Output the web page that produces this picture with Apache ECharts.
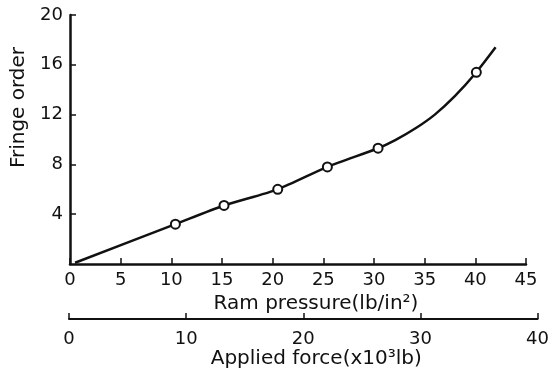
<!DOCTYPE html>
<html>
<head>
<meta charset="utf-8">
<script src="https://cdn.jsdelivr.net/npm/echarts@6/dist/echarts.min.js"></script>
<style>
  html, body { margin: 0; padding: 0; background: #fff; }
  #chart { width: 552px; height: 370px; }
</style>
</head>
<body>
<div id="chart"></div>
<script>
// measured points (circles)
const pressure = [10.4, 15.2, 20.5, 25.4, 30.4, 40.1];
const fringe = [3.2, 4.7, 6.0, 7.8, 9.3, 15.4];

// drawn curve traced through the points
const curvePressure = [0.5, 10.4, 15.2, 20.5, 25.4, 30.4, 32.1, 34.1, 36.0, 38.0, 40.1, 42.0];
const curveFringe = [0.1, 3.2, 4.7, 6.0, 7.8, 9.3, 9.95, 10.9, 12.0, 13.5, 15.4, 17.4];

// axis ranges
const pressureTicks = [0, 45, 5];
const forceTicks = [0, 40, 10];
const fringeTicks = [0, 20, 4];

const ink = '#111';
const font = 'DejaVu Sans';

const chart = echarts.init(document.getElementById('chart'));

chart.setOption({
  backgroundColor: '#fff',
  animation: false,
  grid: [
    { left: 70, right: 26, top: 15, bottom: 106 },
    { left: 69, right: 11, top: 300, height: 20 },
  ],
  xAxis: [
    {
      type: 'value',
      gridIndex: 0,
      min: pressureTicks[0],
      max: pressureTicks[1],
      interval: pressureTicks[2],
      name: 'Ram pressure(lb/in²)',
      nameLocation: 'middle',
      nameGap: 22,
      nameTextStyle: { color: ink, fontFamily: font, fontSize: 20, padding: [0, 0, 0, 36] },
      axisLine: { lineStyle: { color: ink, width: 2.5 } },
      axisTick: { inside: true, length: 6, lineStyle: { color: ink, width: 1.5 } },
      axisLabel: { color: ink, fontFamily: font, fontSize: 18, margin: 7 },
      splitLine: { show: false },
    },
    {
      type: 'value',
      gridIndex: 1,
      position: 'bottom',
      min: forceTicks[0],
      max: forceTicks[1],
      interval: forceTicks[2],
      name: 'Applied force(x10³lb)',
      nameLocation: 'middle',
      nameGap: 30,
      nameTextStyle: { color: ink, fontFamily: font, fontSize: 20, padding: [0, 0, 0, 26] },
      axisLine: { lineStyle: { color: ink, width: 2 } },
      axisTick: { inside: true, length: 6, lineStyle: { color: ink, width: 1.5 } },
      axisLabel: { color: ink, fontFamily: font, fontSize: 18, margin: 11 },
      splitLine: { show: false },
    },
  ],
  yAxis: [
    {
      type: 'value',
      gridIndex: 0,
      min: fringeTicks[0],
      max: fringeTicks[1],
      interval: fringeTicks[2],
      name: 'Fringe order',
      nameLocation: 'middle',
      nameRotate: 90,
      nameGap: 40,
      nameTextStyle: { color: ink, fontFamily: font, fontSize: 20, padding: [0, 0, 0, 64] },
      axisLine: { show: true, lineStyle: { color: ink, width: 2.5 } },
      axisTick: { show: true, inside: true, length: 6, lineStyle: { color: ink, width: 1.5 } },
      axisLabel: { color: ink, fontFamily: font, fontSize: 18, margin: 7, showMinLabel: false },
      splitLine: { show: false },
    },
    {
      type: 'value',
      gridIndex: 1,
      show: false,
    },
  ],
  series: [
    {
      type: 'line',
      xAxisIndex: 0,
      yAxisIndex: 0,
      data: curvePressure.map((x, i) => [x, curveFringe[i]]),
      smooth: 0.25,
      showSymbol: false,
      lineStyle: { color: ink, width: 2.5 },
      z: 2,
    },
    {
      type: 'scatter',
      xAxisIndex: 0,
      yAxisIndex: 0,
      data: pressure.map((x, i) => [x, fringe[i]]),
      symbol: 'circle',
      symbolSize: 9,
      itemStyle: { color: '#fff', borderColor: ink, borderWidth: 2, opacity: 1 },
      z: 3,
    },
  ],
});
</script>
</body>
</html>
